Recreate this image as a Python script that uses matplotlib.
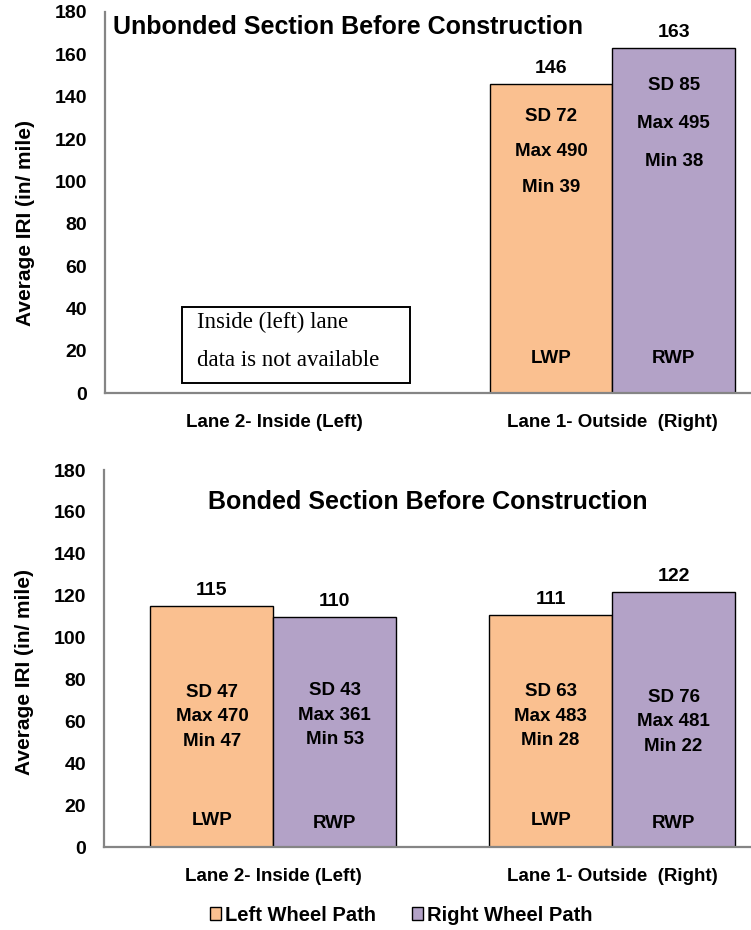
import numpy as np
import matplotlib.pyplot as plt
from matplotlib.patches import Patch, Rectangle

# data
lanes = ['Lane 2- Inside (Left)', 'Lane 1- Outside  (Right)']
unbonded_lwp = [np.nan, 146]
unbonded_rwp = [np.nan, 163]
bonded_lwp = [115, 111]
bonded_rwp = [110, 122]

unbonded_stats_lwp = [None, 'SD 72\nMax 490\nMin 39']
unbonded_stats_rwp = [None, 'SD 85\nMax 495\nMin 38']
bonded_stats_lwp = ['SD 47\nMax 470\nMin 47', 'SD 63\nMax 483\nMin 28']
bonded_stats_rwp = ['SD 43\nMax 361\nMin 53', 'SD 76\nMax 481\nMin 22']

yticks = np.arange(0, 181, 20)

lwp_color = '#FAC090'
rwp_color = '#B3A2C7'
plt.rcParams['font.family'] = ['Liberation Sans', 'DejaVu Sans']
plt.rcParams['font.weight'] = 'bold'

fig = plt.figure(figsize=(7.51, 9.30), dpi=100)
ax_top = fig.add_axes([0.1398, 0.5774, 0.8602, 0.4097])
ax_bot = fig.add_axes([0.1385, 0.0892, 0.8615, 0.4054])

x = np.arange(len(lanes))
w = 0.363


def draw_panel(ax, lwp, rwp, st_l, st_r, stat_y, tag_y, spacing):
    ax.bar(x - w / 2, lwp, w, color=lwp_color, edgecolor='black', linewidth=1.0)
    ax.bar(x + w / 2, rwp, w, color=rwp_color, edgecolor='black', linewidth=1.0)
    for i in range(len(lanes)):
        for off, val, st, sy, tag, ty, sp in [
                (-w / 2, lwp[i], st_l[i], stat_y[0][i], 'LWP', tag_y[0], spacing[0]),
                (w / 2, rwp[i], st_r[i], stat_y[1][i], 'RWP', tag_y[1], spacing[1])]:
            if np.isnan(val):
                continue
            ax.annotate('%d' % val, (x[i] + off, val), xytext=(0, 5),
                        textcoords='offset points', ha='center', va='bottom',
                        fontsize=14)
            ax.text(x[i] + off, sy, st, ha='center', va='center',
                    fontsize=13.5, linespacing=sp)
            ax.text(x[i] + off, ty, tag, ha='center', va='center', fontsize=13.5)
    ax.set_xlim(-0.5, 1.41)
    ax.set_ylim(0, 180)
    ax.set_yticks(yticks)
    ax.set_xticks(x)
    ax.set_xticklabels(lanes, fontsize=13.5)
    ax.tick_params(axis='x', length=0, pad=15)
    ax.tick_params(axis='y', length=0, pad=13, labelsize=14)
    for s in ['top', 'right']:
        ax.spines[s].set_visible(False)
    for s in ['left', 'bottom']:
        ax.spines[s].set_color('#858585')
        ax.spines[s].set_linewidth(1.6)
    ax.set_ylabel('Average IRI (in/ mile)', fontsize=15, fontweight='bold')


draw_panel(ax_top, unbonded_lwp, unbonded_rwp, unbonded_stats_lwp,
           unbonded_stats_rwp, [[0, 113.9], [0, 127.4]], (16.5, 16.5), (2.45, 2.6))
ax_top.yaxis.set_label_coords(-0.108, 0.445)
ax_top.text(0.012, 0.96, 'Unbonded Section Before Construction', transform=ax_top.transAxes,
            ha='left', va='center', fontsize=18)
# note box for the missing lane
ax_top.add_patch(Rectangle((0.119, 4.7), 0.353, 35.9, transform=ax_top.get_yaxis_transform(),
                           facecolor='white', edgecolor='black', linewidth=1.4))
ax_top.text(0.142, 24.3, 'Inside (left) lane\ndata is not available',
            transform=ax_top.get_yaxis_transform(), family='Liberation Serif',
            fontweight='normal', fontsize=16.5, ha='left', va='center', linespacing=2.1)

draw_panel(ax_bot, bonded_lwp, bonded_rwp, bonded_stats_lwp, bonded_stats_rwp,
           [[62.1, 62.5], [63.0, 59.7]], (12.9, 11.3), (1.6, 1.6))
ax_bot.yaxis.set_label_coords(-0.108, 0.464)
ax_bot.text(0.5, 0.915, 'Bonded Section Before Construction', transform=ax_bot.transAxes,
            ha='center', va='center', fontsize=18)

handles = [Patch(facecolor=lwp_color, edgecolor='black', label='Left Wheel Path'),
           Patch(facecolor=rwp_color, edgecolor='black', label='Right Wheel Path')]
fig.legend(handles=handles, loc='center', bbox_to_anchor=(0.534, 0.016), ncol=2,
           frameon=False, fontsize=14.5, handlelength=0.55, handleheight=0.55,
           handletextpad=0.2, columnspacing=1.8)

fig.savefig('out.png', dpi=100)
